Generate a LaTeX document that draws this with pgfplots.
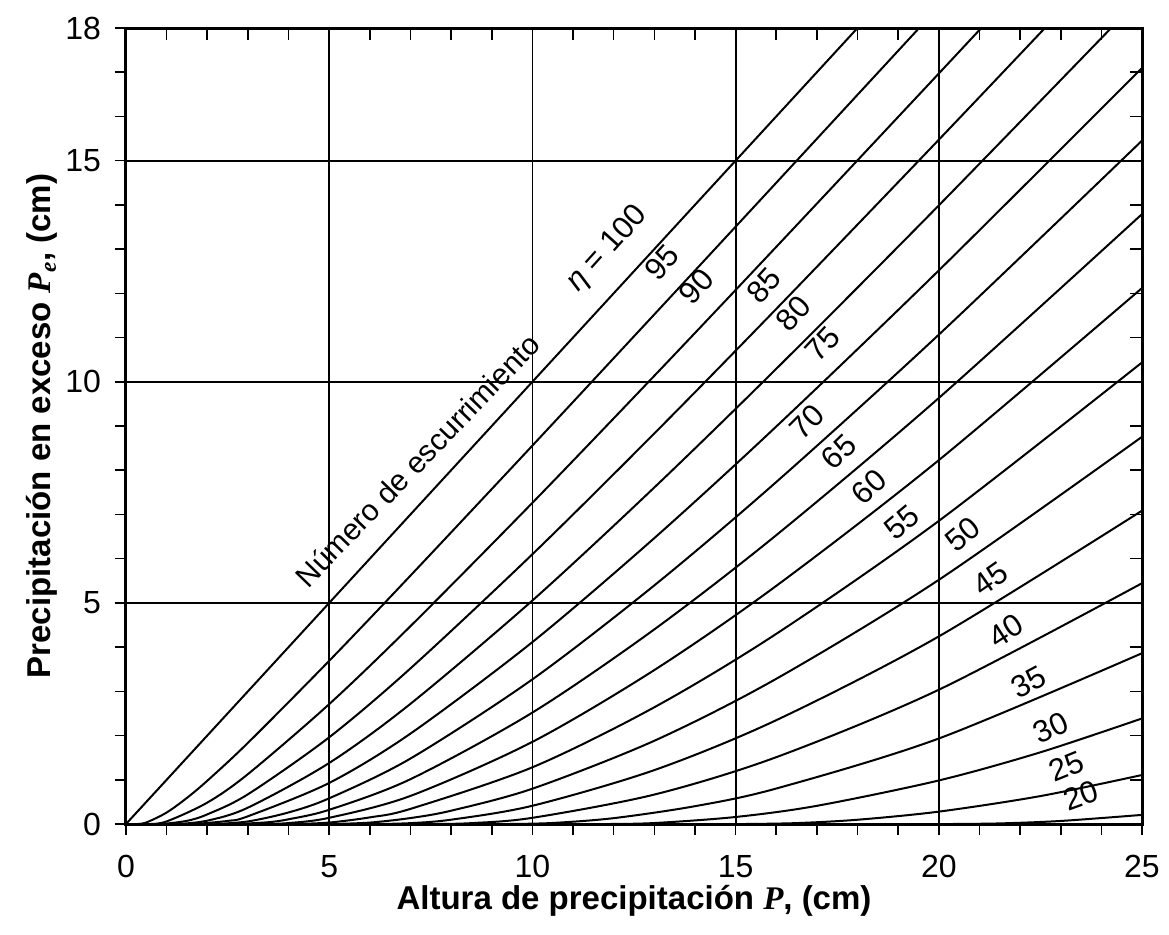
\documentclass[border=0pt]{standalone}
\usepackage{fontspec}
\setmainfont{Liberation Sans}
\newfontfamily\serif{Liberation Serif}
\usepackage{pgfplots}
\pgfplotsset{compat=1.18}
\begin{document}
\begin{tikzpicture}
\useasboundingbox (-63pt,-55pt) rectangle (521.5pt,412pt);
\begin{axis}[
  at={(0,0)}, anchor=south west,
  scale only axis, width=508pt, height=398pt,
  xmin=0, xmax=25, ymin=0, ymax=18,
  xtick={0,5,...,25}, ytick={0,5,10,15,18},
  minor xtick={1,...,24}, minor ytick={1,...,17},
  tick align=outside, xtick pos=left, ytick pos=left,
  major tick length=5.5pt, minor tick length=5.5pt,
  every tick/.style={black, line width=0.8pt},
  grid=major, major grid style={black, line width=0.9pt},
  axis line style={line width=1.5pt},
  ticklabel style={font=\fontsize{16}{18}\selectfont},
  xticklabel style={yshift=-6.5pt},
  yticklabel style={xshift=-3.5pt},
  /pgf/number format/assume math mode=true,
  xlabel={Altura de precipitación {\serif\bfseries\itshape P}, (cm)},
  ylabel={Precipitación en exceso {\serif\bfseries\itshape P\textsubscript{e}}, (cm)},
  label style={font=\bfseries\fontsize{16.5}{20}\selectfont},
  xlabel style={at={(axis description cs:0.5,-0.0965)}, anchor=center},
  ylabel style={at={(axis description cs:-0.0827,0.5)}, anchor=center},
  cycle list={{black, solid, mark=none}},
  every axis plot/.append style={line width=1pt, smooth},
  clip=true,
]
% CN 100
\addplot coordinates {(0,0) (19,19)};
% CN 95
\addplot coordinates {(0.2674,0) (0.5,0.0345) (1,0.2593) (1.5,0.591) (2,0.978) (3,1.835) (5,3.690) (7,5.617) (10,8.557) (13,11.523) (16,14.500) (20,18.481)};
% CN 90
\addplot coordinates {(0.5644,0) (1,0.0582) (2,0.484) (3,1.128) (5,2.711) (7,4.474) (10,7.263) (13,10.135) (16,13.050) (20,16.971) (22,18.942)};
% CN 85
\addplot coordinates {(0.8965,0) (1.5,0.0716) (2,0.218) (3,0.672) (5,1.961) (7,3.519) (10,6.100) (13,8.832) (16,11.647) (20,15.473) (23,18.377)};
% CN 80
\addplot coordinates {(1.27,0) (2,0.0753) (3,0.370) (5,1.380) (7,2.718) (10,5.054) (13,7.610) (16,10.293) (20,13.988) (25,18.720)};
% CN 75
\addplot coordinates {(1.6933,0) (2.5,0.0702) (3,0.1747) (5,0.9287) (7,2.0446) (10,4.1137) (13,6.465) (16,8.988) (20,12.518) (25,17.096)};
% CN 70
\addplot coordinates {(2.1771,0) (3,0.0578) (4,0.2615) (5,0.5813) (7,1.4807) (10,3.2711) (13,5.396) (16,7.733) (20,11.065) (25,15.453)};
% CN 65
\addplot coordinates {(2.7354,0) (3.5,0.0405) (4,0.1070) (5,0.3217) (7,1.0137) (10,2.520) (13,4.401) (16,6.531) (20,9.633) (25,13.792)};
% CN 60
\addplot coordinates {(3.3867,0) (4,0.0214) (5,0.1403) (7,0.6354) (10,1.8574) (13,3.4813) (16,5.3845) (20,8.2275) (25,12.119)};
% CN 55
\addplot coordinates {(4.1564,0) (5,0.0329) (6,0.1502) (7,0.3423) (10,1.2825) (13,2.640) (16,4.2994) (20,6.8537) (25,10.437)};
% CN 50
\addplot coordinates {(5.08,0) (6,0.0322) (7,0.1349) (8,0.3011) (10,0.7984) (13,1.8825) (16,3.2833) (20,5.5211) (25,8.7557)};
% CN 45
\addplot coordinates {(6.2089,0) (7,0.0197) (8,0.0977) (10,0.4126) (13,1.2189) (16,2.3476) (20,4.2420) (25,7.0855)};
% CN 40
\addplot coordinates {(7.62,0) (8.5,0.0199) (10,0.1399) (13,0.6657) (16,1.5109) (20,3.0361) (25,5.4445)};
% CN 35
\addplot coordinates {(9.4343,0) (10.5,0.0235) (12,0.1324) (14,0.4029) (16,0.8022) (20,1.9335) (25,3.8620)};
% CN 30
\addplot coordinates {(11.8533,0) (13,0.0218) (15,0.1586) (17,0.4112) (20,0.9845) (22.5,1.6213) (25,2.3868)};
% CN 25
\addplot coordinates {(15.24,0) (16.5,0.0205) (18,0.0965) (20,0.2799) (22.5,0.6315) (25,1.108)};
% CN 20
\addplot coordinates {(20.32,0) (21.5,0.0135) (23,0.0689) (25,0.206)};

\begin{scope}[every node/.style={font=\fontsize{15.5}{18}\selectfont, inner sep=1pt}]
\node[rotate=46, font=\fontsize{15}{18}\selectfont] at (axis cs:7.17,8.22) {Número de escurrimiento};
\node[rotate=48] at (axis cs:11.85,13.0) {\textit{η} = 100};
\node[rotate=48] at (axis cs:13.19,12.7) {95};
\node[rotate=48] at (axis cs:14.03,12.15) {90};
\node[rotate=48] at (axis cs:15.70,12.18) {85};
\node[rotate=48] at (axis cs:16.42,11.55) {80};
\node[rotate=47] at (axis cs:17.15,10.85) {75};
\node[rotate=45] at (axis cs:16.76,9.1) {70};
\node[rotate=44] at (axis cs:17.54,8.42) {65};
\node[rotate=43] at (axis cs:18.28,7.62) {60};
\node[rotate=40] at (axis cs:19.09,6.82) {55};
\node[rotate=40] at (axis cs:20.59,6.55) {50};
\node[rotate=35] at (axis cs:21.28,5.54) {45};
\node[rotate=33] at (axis cs:21.65,4.37) {40};
\node[rotate=28] at (axis cs:22.21,3.22) {35};
\node[rotate=25] at (axis cs:22.75,2.18) {30};
\node[rotate=22] at (axis cs:23.14,1.30) {25};
\node[rotate=20] at (axis cs:23.49,0.64) {20};
\end{scope}
\end{axis}
\begin{axis}[
  at={(0,0)}, anchor=south west,
  scale only axis, width=508pt, height=398pt,
  xmin=0, xmax=25, ymin=0, ymax=18,
  xtick={0,...,25}, ytick={0,...,18},
  xticklabels={}, yticklabels={},
  tick align=inside, xtick pos=right, ytick pos=right,
  major tick length=6pt,
  every tick/.style={black, line width=0.8pt},
  axis line style={line width=1.5pt},
]
\end{axis}
\end{tikzpicture}
\end{document}
